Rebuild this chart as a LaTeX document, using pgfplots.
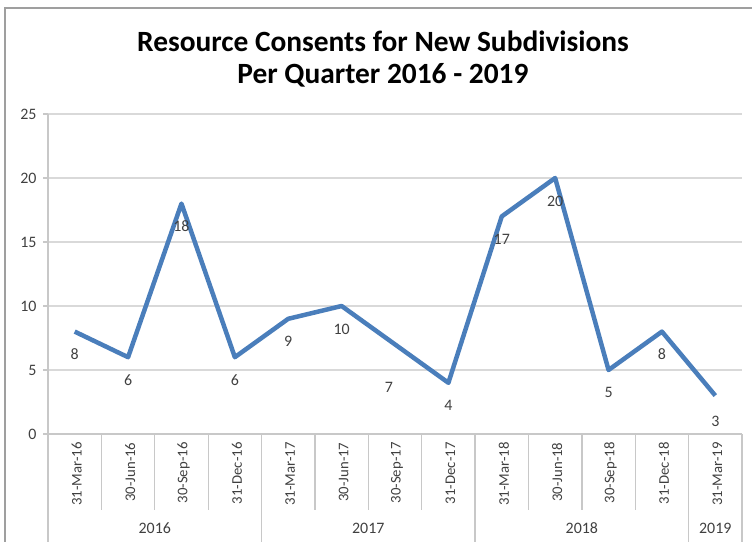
\documentclass[border=0pt]{standalone}
\usepackage{pgfplots}
\pgfplotsset{compat=1.18}
\usepackage{fontspec}
\setmainfont{Carlito}
\definecolor{lineblue}{RGB}{74,126,187}
\definecolor{gridgray}{RGB}{217,217,217}
\definecolor{axgray}{RGB}{200,200,200}
\definecolor{txt}{RGB}{64,64,64}
\pgfplotstableread{
x y dx dy
0 8 0 -23
1 6 0 -23
2 18 0 -23
3 6 0 -23
4 9 0 -23
5 10 0 -23
6 7 -6 -43
7 4 0 -23
8 17 0 -23
9 20 0 -23
10 5 0 -23
11 8 0 -23
12 3 0 -26
}\datatable
\begin{document}
\begin{tikzpicture}
\path[use as bounding box] (0bp,0bp) rectangle (752bp,542bp);
\draw[gray!75, line width=1.5bp] (5bp,0bp) -- (5bp,534bp) -- (752bp,534bp);
\node[font=\fontsize{29.5}{33}\selectfont\bfseries, align=center] at (383bp,483bp) {Resource Consents for New Subdivisions\\Per Quarter 2016 - 2019};
\begin{axis}[
  at={(48bp,108bp)}, anchor=south west,
  width=694bp, height=320bp, scale only axis,
  xmin=-0.5, xmax=12.5, ymin=0, ymax=25,
  ytick={0,5,...,25},
  xtick={0,...,12},
  xticklabels={31-Mar-16,30-Jun-16,30-Sep-16,31-Dec-16,31-Mar-17,30-Jun-17,30-Sep-17,31-Dec-17,31-Mar-18,30-Jun-18,30-Sep-18,31-Dec-18,31-Mar-19},
  axis lines=left,
  axis line style={-, axgray, line width=1.5bp},
  ymajorgrids, grid style={gridgray, line width=2bp},
  tick align=outside, major tick length=5bp,
  xtick style={draw=none},
  ytick style={axgray, line width=1.5bp},
  /pgf/number format/assume math mode=true,
  yticklabel style={font=\fontsize{16}{18}\selectfont, text=txt, xshift=-3bp},
  xticklabel style={rotate=90, anchor=east, font=\fontsize{14.8}{17}\selectfont, text=txt, yshift=-2bp},
  clip=false,
]
\addplot[lineblue, line width=4.5bp, line join=round, mark=none,
  point meta=explicit,
  visualization depends on={\thisrow{dy}\as\dy},
  visualization depends on={\thisrow{dx}\as\dx},
  nodes near coords,
  every node near coord/.append style={anchor=center, xshift=\dx*1pt, yshift=\dy*1pt, font=\fontsize{16}{18}\selectfont, text=txt},
] table[x=x, y=y, meta=y] {\datatable};
% category separators
\draw[axgray, line width=1.3bp] (axis cs:0.5,0) -- ++(0bp,-76bp);
\draw[axgray, line width=1.3bp] (axis cs:1.5,0) -- ++(0bp,-76bp);
\draw[axgray, line width=1.3bp] (axis cs:2.5,0) -- ++(0bp,-76bp);
\draw[axgray, line width=1.3bp] (axis cs:4.5,0) -- ++(0bp,-76bp);
\draw[axgray, line width=1.3bp] (axis cs:5.5,0) -- ++(0bp,-76bp);
\draw[axgray, line width=1.3bp] (axis cs:6.5,0) -- ++(0bp,-76bp);
\draw[axgray, line width=1.3bp] (axis cs:8.5,0) -- ++(0bp,-76bp);
\draw[axgray, line width=1.3bp] (axis cs:9.5,0) -- ++(0bp,-76bp);
\draw[axgray, line width=1.3bp] (axis cs:10.5,0) -- ++(0bp,-76bp);
% year separators
\draw[axgray, line width=1.3bp] (axis cs:-0.5,0) -- ++(0bp,-108bp);
\draw[axgray, line width=1.3bp] (axis cs:3.5,0) -- ++(0bp,-108bp);
\draw[axgray, line width=1.3bp] (axis cs:7.5,0) -- ++(0bp,-108bp);
\draw[axgray, line width=1.3bp] (axis cs:11.5,0) -- ++(0bp,-108bp);
\draw[axgray, line width=1.3bp] (axis cs:12.5,0) -- ++(0bp,-108bp);
% year labels
\node[font=\fontsize{16}{18}\selectfont, text=txt] at ([yshift=-94bp]axis cs:1.5,0) {2016};
\node[font=\fontsize{16}{18}\selectfont, text=txt] at ([yshift=-94bp]axis cs:5.5,0) {2017};
\node[font=\fontsize{16}{18}\selectfont, text=txt] at ([yshift=-94bp]axis cs:9.5,0) {2018};
\node[font=\fontsize{16}{18}\selectfont, text=txt] at ([yshift=-94bp]axis cs:12,0) {2019};
\end{axis}
\end{tikzpicture}
\end{document}
